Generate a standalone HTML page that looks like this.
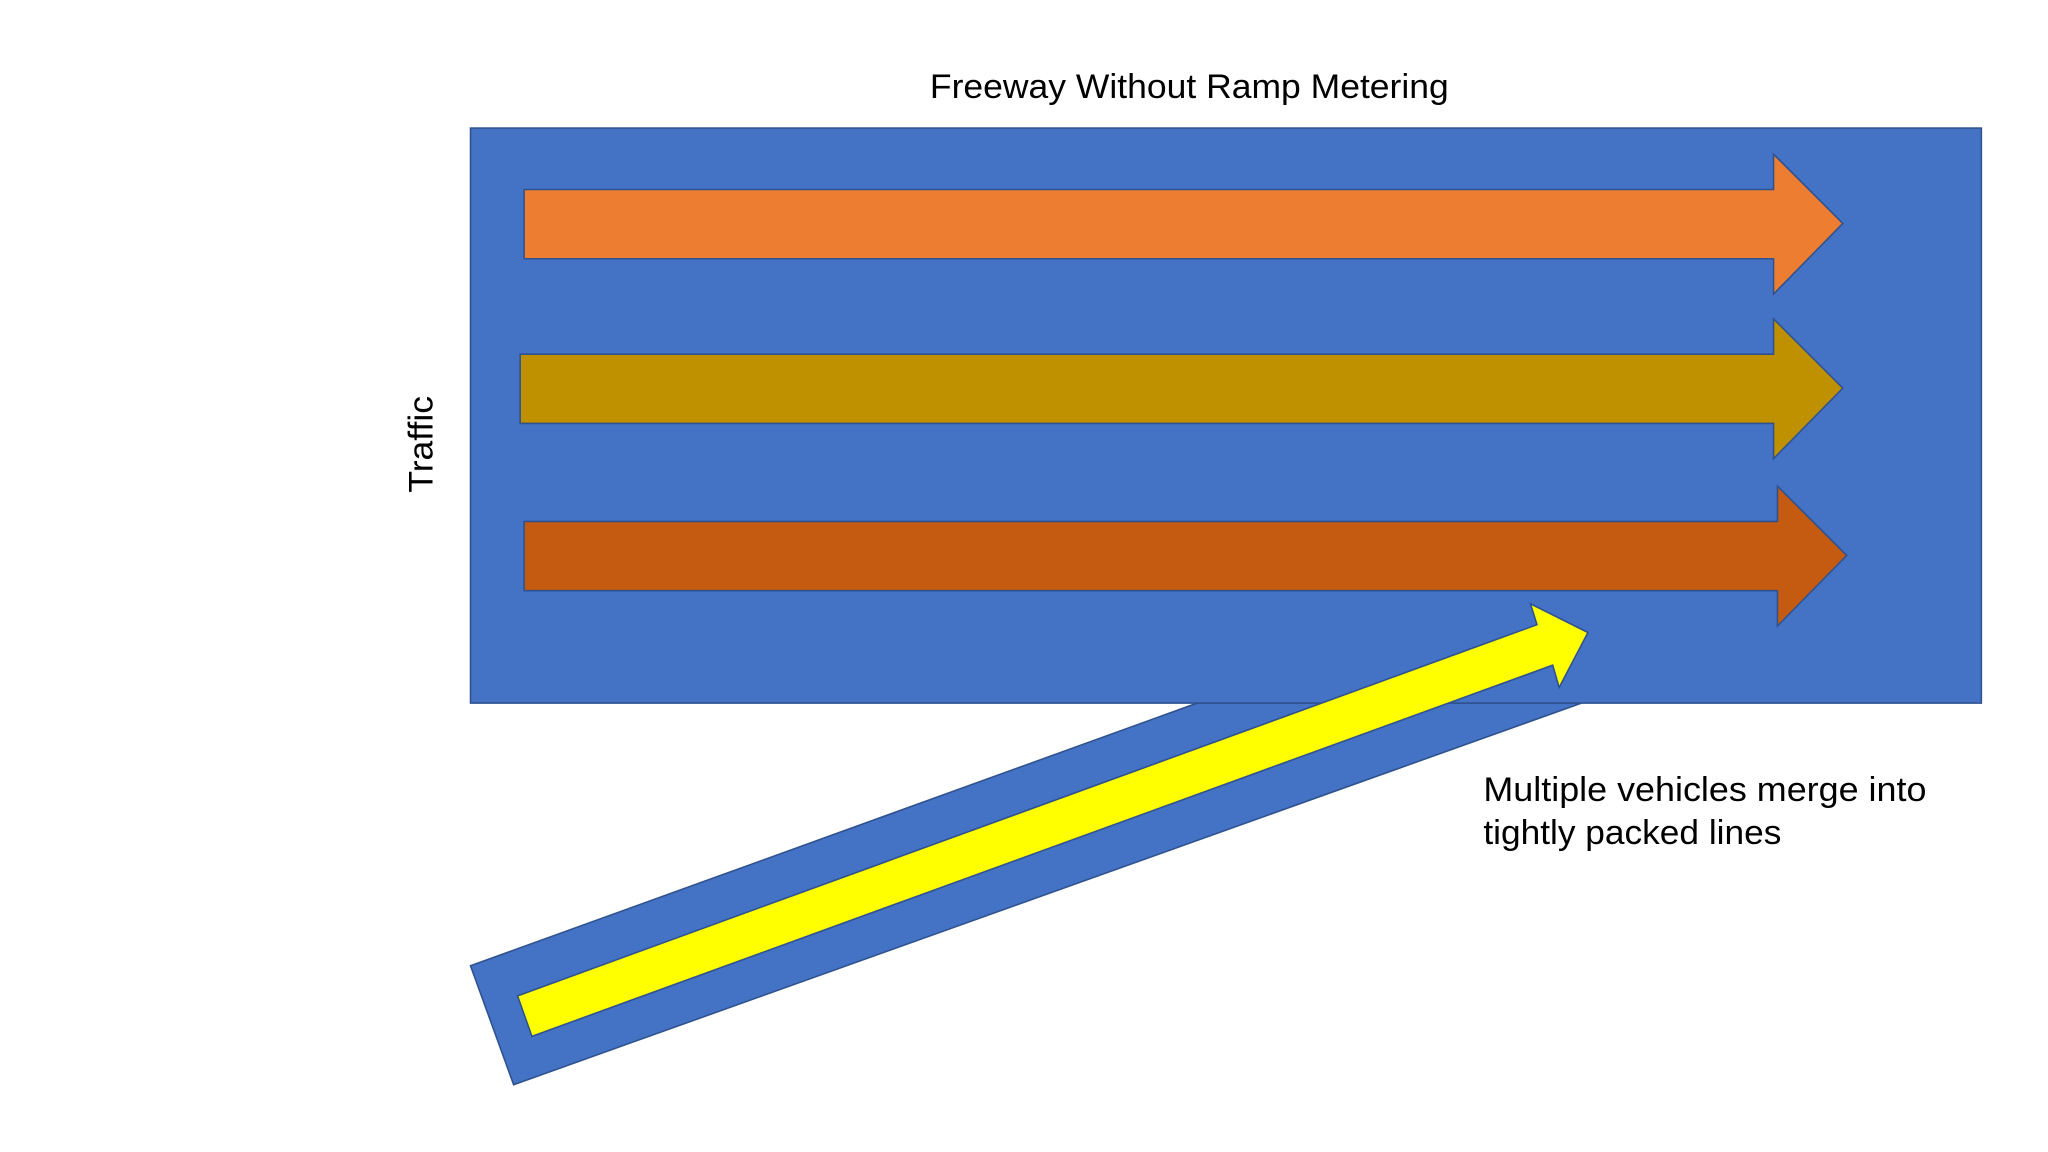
<!DOCTYPE html>
<html><head><meta charset="utf-8"><style>html,body{margin:0;padding:0;background:#fff}svg{display:block}</style></head>
<body>
<svg width="2048" height="1152" viewBox="0 0 1567 881.5" preserveAspectRatio="none" xmlns="http://www.w3.org/2000/svg">
<rect width="1567" height="881.5" fill="#fff"/>
<text x="910" y="75" font-family="Liberation Sans, sans-serif" font-size="26" text-anchor="middle" textLength="397" lengthAdjust="spacingAndGlyphs" fill="#000">Freeway Without Ramp Metering</text>
<polygon points="360,739 916,538 1210,538 393,830" fill="#4472C4" stroke="#2F528F" stroke-width="1.2"/>
<rect x="360" y="98" width="1156" height="440" fill="#4472C4" stroke="#2F528F" stroke-width="1.2"/>
<text transform="translate(331,340) rotate(-90)" font-family="Liberation Sans, sans-serif" font-size="26" text-anchor="middle" textLength="74" lengthAdjust="spacingAndGlyphs" fill="#000">Traffic</text>
<polygon points="401,145 1357,145 1357,118 1410,171 1357,225 1357,198 401,198" fill="#ED7D31" stroke="#2F528F" stroke-width="1.2"/>
<polygon points="398,271 1357,271 1357,244 1410,297 1357,351 1357,324 398,324" fill="#BF9000" stroke="#2F528F" stroke-width="1.2"/>
<polygon points="401,399 1360,399 1360,372 1413,425 1360,479 1360,452 401,452" fill="#C55A11" stroke="#2F528F" stroke-width="1.2"/>
<polygon points="396,762 1176,478 1171,462 1215,484 1193,526 1188,509 407,793" fill="#FFFF00" stroke="#2F528F" stroke-width="1.2"/>
<text font-family="Liberation Sans, sans-serif" font-size="26" fill="#000"><tspan x="1135" y="613" textLength="339" lengthAdjust="spacingAndGlyphs">Multiple vehicles merge into</tspan><tspan x="1135" y="646" textLength="228" lengthAdjust="spacingAndGlyphs">tightly packed lines</tspan></text>
</svg>
</body></html>
